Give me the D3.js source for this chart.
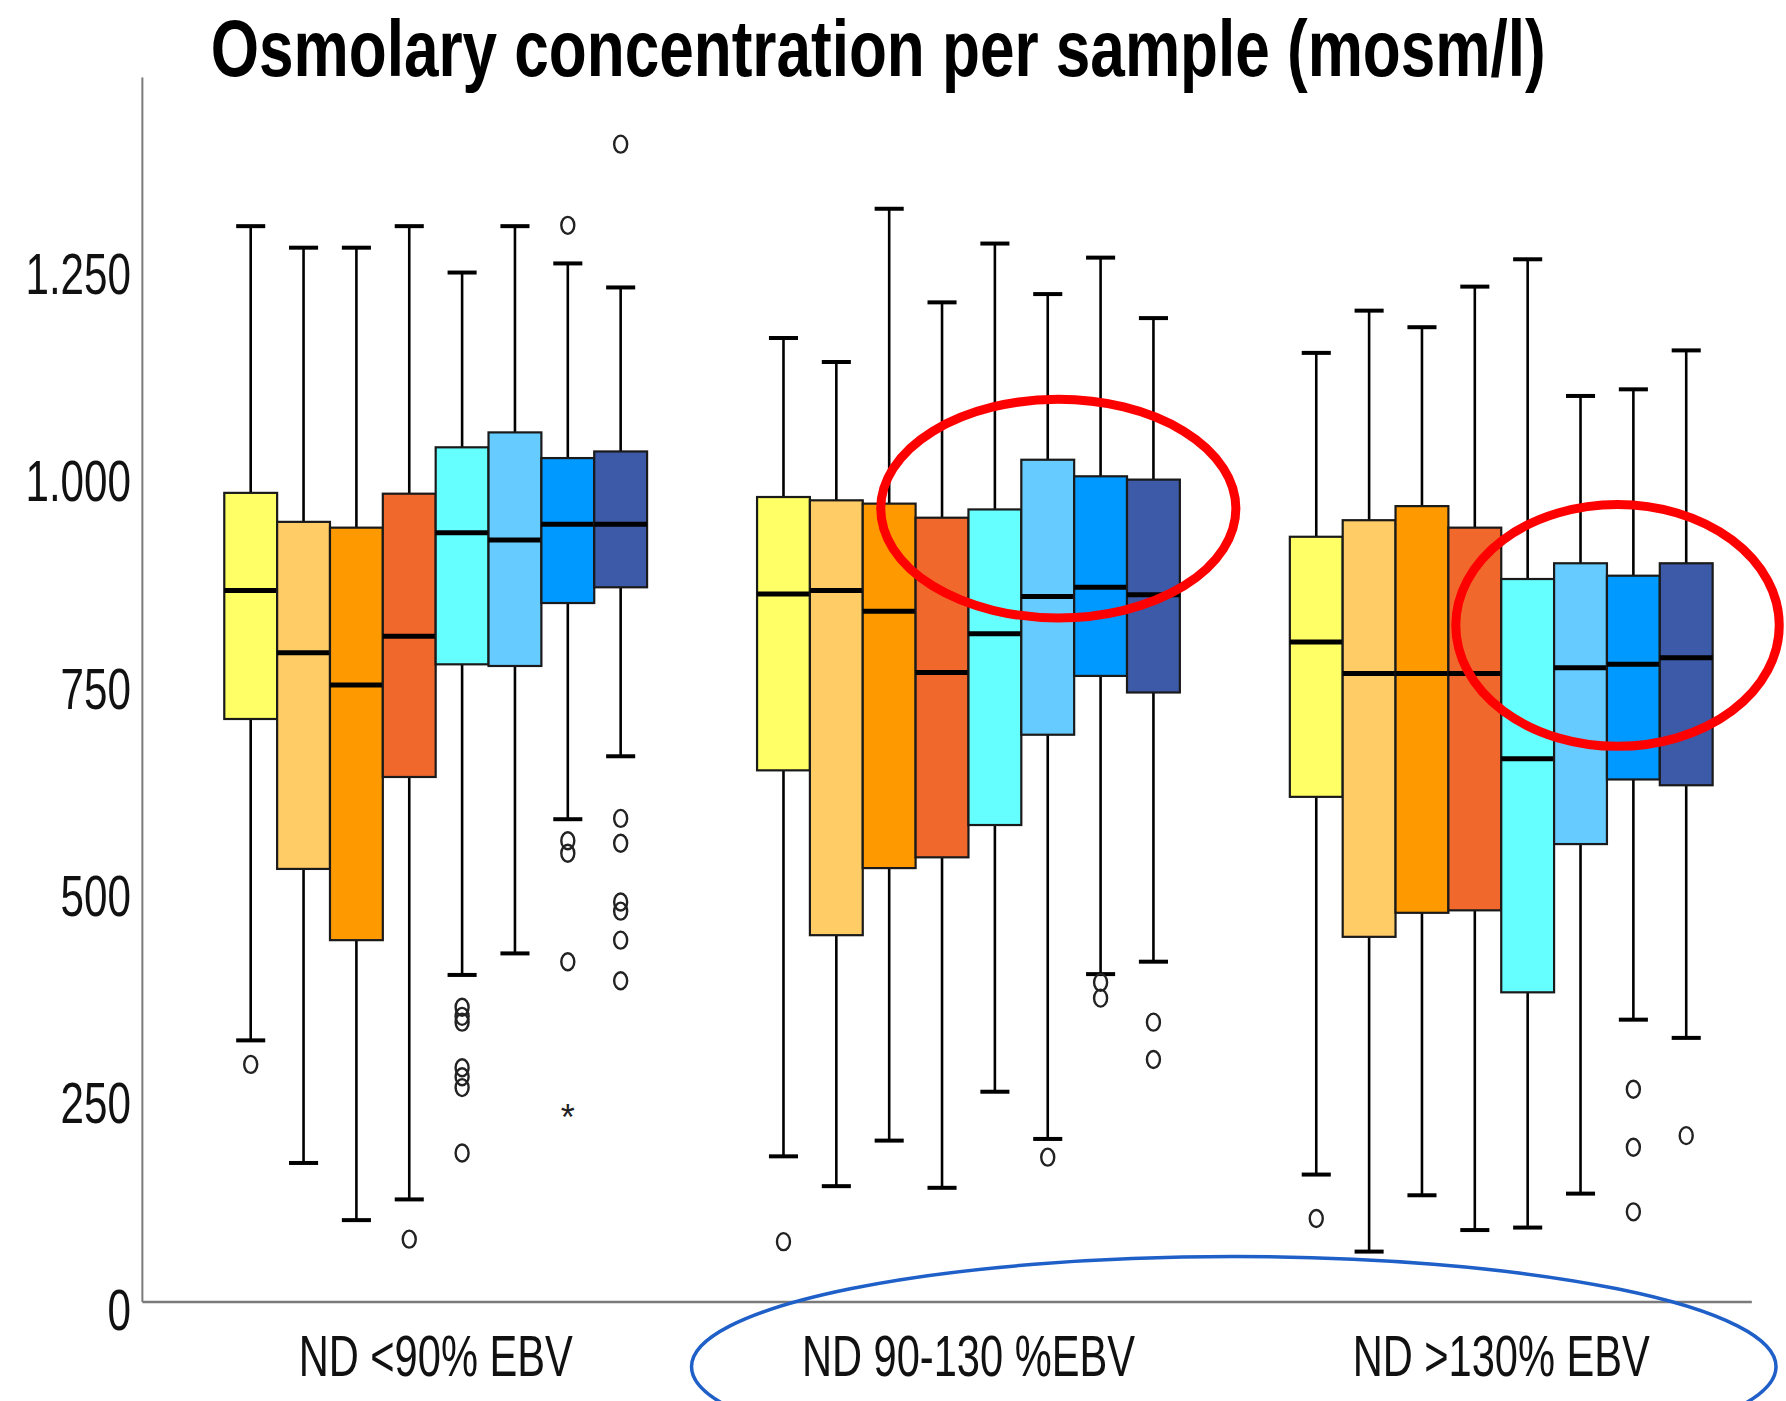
<!DOCTYPE html>
<html>
<head>
<meta charset="utf-8">
<script src="https://cdn.jsdelivr.net/npm/d3@7"></script>
<style>
  body { margin: 0; background: #fff; }
  svg { display: block; font-family: "Liberation Sans", Arial, sans-serif; }
</style>
</head>
<body>
<svg id="chart" width="1786" height="1401"></svg>
<script>
// groups and series
const groups = ["ND <90% EBV", "ND 90-130 %EBV", "ND >130% EBV"];
const seriesColors = ["#ffff66", "#ffcc66", "#ff9900", "#f1682d", "#66ffff", "#66ccff", "#0099ff", "#3d5aa8"];
const yTicks = [0, 250, 500, 750, 1000, 1250];
const yTickLabels = ["0", "250", "500", "750", "1.000", "1.250"];

// box stats, one row per group, 8 series each
const whiskerHigh = [
  [1307, 1281, 1281, 1307, 1251, 1307, 1262, 1233],
  [1172, 1143, 1328, 1215, 1286, 1225, 1269, 1196],
  [1154, 1205, 1185, 1234, 1267, 1102, 1110, 1157]
];
const q3 = [
  [985, 950, 943, 984, 1040, 1058, 1027, 1035],
  [980, 976, 972, 955, 965, 1025, 1005, 1001],
  [932, 952, 969, 943, 881, 900, 885, 900]
];
const median = [
  [867, 792, 753, 812, 937, 928, 947, 947],
  [863, 867, 842, 768, 815, 860, 871, 862],
  [805, 767, 767, 767, 664, 774, 778, 786]
];
const q1 = [
  [712, 531, 445, 642, 778, 776, 852, 871],
  [650, 451, 532, 545, 584, 693, 764, 744],
  [618, 449, 478, 481, 382, 561, 639, 632]
];
const whiskerLow = [
  [324, 176, 107, 132, 403, 429, 591, 667],
  [184, 148, 203, 146, 262, 205, 404, 419],
  [162, 69, 137, 95, 98, 139, 349, 327]
];
// [group, series, value]
const outliers = [
  [0, 0, 295], [0, 3, 84],
  [0, 4, 364], [0, 4, 353], [0, 4, 346], [0, 4, 291], [0, 4, 280], [0, 4, 267], [0, 4, 188],
  [0, 6, 1308], [0, 6, 565], [0, 6, 550], [0, 6, 419],
  [0, 7, 1406], [0, 7, 592], [0, 7, 562], [0, 7, 491], [0, 7, 480], [0, 7, 445], [0, 7, 396],
  [1, 0, 81], [1, 5, 183], [1, 6, 394], [1, 6, 375], [1, 7, 346], [1, 7, 301],
  [2, 0, 109], [2, 6, 265], [2, 6, 195], [2, 6, 117], [2, 7, 209]
];
const extremes = [[0, 6, 236]];

// hand drawn marks: group, centre offset and x radius in box widths, centre and y radius in value units
const annotations = [
  { group: 1, dx: 1.7, rx: 3.36, v: 966, rv: 132, color: "#ff0000", width: 9 },
  { group: 2, dx: 2.2, rx: 3.06, v: 825, rv: 146, color: "#ff0000", width: 9 },
  { group: 1, dx: 5.02, rx: 10.26, v: -70, rv: 133, color: "#1f5fc8", width: 3.5 }
];

const K = 1786 / 1568;
const svg = d3.select("#chart");
svg.append("rect").attr("width", 1786).attr("height", 1401).attr("fill", "#fff");

const y = d3.scaleLinear().domain([0, 1250]).range([1149 * K, 240 * K]);
const x0 = d3.scalePoint().domain(groups).range([382.5 * K, 1318 * K]);
const boxW = 46.4 * K;
const x1 = d3.scaleBand().domain(d3.range(8)).range([-4 * boxW, 4 * boxW]).padding(0);

const axisLeftX = 125 * K, axisBottomY = 1143 * K;

function squeeze(sel, f) {
  sel.each(function() {
    const L = this.getComputedTextLength();
    this.setAttribute("textLength", L * f);
    this.setAttribute("lengthAdjust", "spacingAndGlyphs");
  });
}

// axes lines
svg.append("line").attr("x1", axisLeftX).attr("x2", axisLeftX)
  .attr("y1", 68 * K).attr("y2", axisBottomY)
  .attr("stroke", "#7a7a7a").attr("stroke-width", 2);
svg.append("line").attr("x1", axisLeftX).attr("x2", 1538 * K)
  .attr("y1", axisBottomY).attr("y2", axisBottomY)
  .attr("stroke", "#7a7a7a").attr("stroke-width", 2.5);

// y tick labels
const yAxis = svg.append("g")
  .attr("transform", "translate(" + (115 * K) + ",0)")
  .call(d3.axisLeft(y).tickValues(yTicks).tickSize(0).tickPadding(0)
    .tickFormat((d, i) => yTickLabels[i]));
yAxis.select(".domain").remove();
yAxis.selectAll("text")
  .attr("font-size", 57).attr("fill", "#111").attr("dy", "0.36em")
  .attr("font-family", "Liberation Sans, Arial, sans-serif");
squeeze(yAxis.selectAll("text"), 0.74);

// group labels
const xl = svg.append("g").selectAll("text").data(groups).enter().append("text")
  .attr("x", d => x0(d)).attr("y", 1208 * K)
  .attr("text-anchor", "middle").attr("font-size", 57).attr("fill", "#111")
  .text(d => d);
squeeze(xl, 0.73);

// title
const title = svg.append("text")
  .attr("x", 185 * K).attr("y", 67 * K)
  .attr("font-size", 79).attr("font-weight", "bold").attr("fill", "#000")
  .text("Osmolary concentration per sample (mosm/l)");
title.attr("textLength", (1357 - 185) * K).attr("lengthAdjust", "spacingAndGlyphs");

// build box rows
const rows = [];
groups.forEach((g, gi) => {
  seriesColors.forEach((c, si) => {
    rows.push({ g, gi, si, color: c, lo: whiskerLow[gi][si], q1: q1[gi][si], med: median[gi][si], q3: q3[gi][si], hi: whiskerHigh[gi][si] });
  });
});
const cx = d => x0(d.g) + x1(d.si) + x1.bandwidth() / 2;
const capW = boxW * 0.55;

const boxes = svg.append("g").selectAll("g").data(rows).enter().append("g");
// whisker stems
boxes.append("line").attr("x1", cx).attr("x2", cx)
  .attr("y1", d => y(d.hi)).attr("y2", d => y(d.q3))
  .attr("stroke", "#000").attr("stroke-width", 2.6);
boxes.append("line").attr("x1", cx).attr("x2", cx)
  .attr("y1", d => y(d.q1)).attr("y2", d => y(d.lo))
  .attr("stroke", "#000").attr("stroke-width", 2.6);
// caps
boxes.append("line").attr("x1", d => cx(d) - capW / 2).attr("x2", d => cx(d) + capW / 2)
  .attr("y1", d => y(d.hi)).attr("y2", d => y(d.hi))
  .attr("stroke", "#000").attr("stroke-width", 4);
boxes.append("line").attr("x1", d => cx(d) - capW / 2).attr("x2", d => cx(d) + capW / 2)
  .attr("y1", d => y(d.lo)).attr("y2", d => y(d.lo))
  .attr("stroke", "#000").attr("stroke-width", 4);
// box
boxes.append("rect")
  .attr("x", d => x0(d.g) + x1(d.si)).attr("width", x1.bandwidth())
  .attr("y", d => y(d.q3)).attr("height", d => y(d.q1) - y(d.q3))
  .attr("fill", d => d.color).attr("stroke", "#1a1a1a").attr("stroke-width", 2.2);
// median
boxes.append("line")
  .attr("x1", d => x0(d.g) + x1(d.si)).attr("x2", d => x0(d.g) + x1(d.si) + x1.bandwidth())
  .attr("y1", d => y(d.med)).attr("y2", d => y(d.med))
  .attr("stroke", "#000").attr("stroke-width", 5);

// outliers
const ox = d => x0(groups[d[0]]) + x1(d[1]) + x1.bandwidth() / 2;
svg.append("g").selectAll("ellipse").data(outliers).enter().append("ellipse")
  .attr("cx", ox).attr("cy", d => y(d[2]))
  .attr("rx", 6.5).attr("ry", 8.5)
  .attr("fill", "none").attr("stroke", "#222").attr("stroke-width", 2.4);
svg.append("g").selectAll("text").data(extremes).enter().append("text")
  .attr("x", ox).attr("y", d => y(d[2]) + 17)
  .attr("text-anchor", "middle").attr("font-size", 36).attr("fill", "#222")
  .text("*");

// annotations
svg.append("g").selectAll("ellipse").data(annotations).enter().append("ellipse")
  .attr("cx", d => x0(groups[d.group]) + d.dx * boxW)
  .attr("cy", d => y(d.v))
  .attr("rx", d => d.rx * boxW)
  .attr("ry", d => y(0) - y(d.rv))
  .attr("fill", "none").attr("stroke", d => d.color).attr("stroke-width", d => d.width);
</script>
</body>
</html>
